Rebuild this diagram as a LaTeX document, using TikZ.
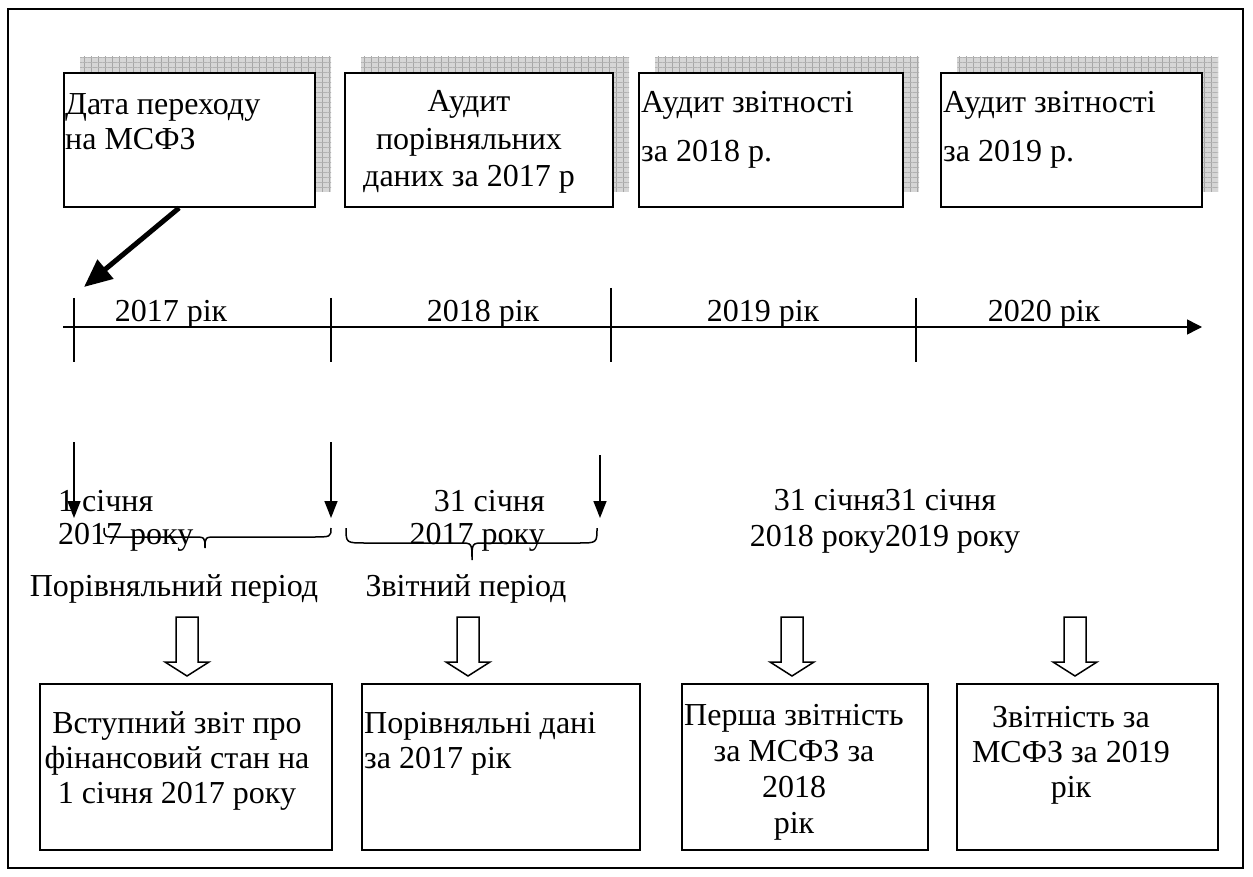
\documentclass[tikz,border=0pt]{standalone}
\usepackage{fontspec}
\setmainfont{Liberation Serif}
\usetikzlibrary{arrows.meta,patterns.meta}
\begin{document}
\begin{tikzpicture}[x=1pt,y=-1pt,
  txt/.style={inner sep=0pt, font=\fontsize{32}{35}\selectfont},
  box/.style={draw, line width=1.8pt, fill=white, inner sep=0pt},
  shade1/.style={fill=gray!32, draw=none},
  shade2/.style={pattern={Lines[distance=7pt,angle=90,line width=0.7pt]}, pattern color=gray!70},
  shade3/.style={pattern={Lines[distance=5pt,angle=0,line width=0.6pt]}, pattern color=gray!60},
  thin/.style={line width=1.5pt},
  hollow/.style={draw, line width=1.5pt, fill=white}
]
\useasboundingbox (0,0) rectangle (1253,877);
\fill[white] (0,0) rectangle (1253,877);
\draw[line width=2pt] (8,9) rectangle (1243,868);

% shadows of the top boxes
\foreach \l/\r in {64/315, 345/613, 639/903, 941/1202}{
  \path[shade1] (\l+16,57) rectangle (\r+16,192);
  \path[shade2] (\l+16,57) rectangle (\r+16,192);
  \path[shade3] (\l+16,57) rectangle (\r+16,192);
}

% top boxes
\node[box, minimum width=251pt, minimum height=134pt] (b1) at (189.5,140) {};
\node[box, minimum width=268pt, minimum height=134pt] (b2) at (479,140) {};
\node[box, minimum width=264pt, minimum height=134pt] (b3) at (771,140) {};
\node[box, minimum width=261pt, minimum height=134pt] (b4) at (1071.5,140) {};

% (anchor=base of a multi-line node = baseline of its last line)
\node[txt, align=left, anchor=base west] (t1) at (65,150) {Дата переходу\\на МСФЗ};
\node[txt, align=center, anchor=base, font=\fontsize{32}{37.5}\selectfont] (t2) at (469,187) {Аудит\\порівняльних\\даних за 2017 р};
\node[txt, align=left, anchor=base west] (t3) at (641,162) {Аудит звітності\\[14pt]за 2018 р.};
\node[txt, align=left, anchor=base west] (t4) at (943,162) {Аудит звітності\\[14pt]за 2019 р.};

% thick arrow to the transition date
\coordinate (tr) at (84,287);
\draw[line width=5pt, -{Triangle[length=28pt,width=24pt]}] ([xshift=116pt]b1.south west) -- (tr);

% time axis
\coordinate (ax0) at (63,327);
\coordinate (ax1) at (1202,327);
\draw[thin, -{Triangle[length=15pt,width=15pt]}] (ax0) -- (ax1);
\draw[thin] (74,298) -- (74,362);
\draw[thin] (331,298) -- (331,362);
\draw[thin] (611,288) -- (611,362);
\draw[thin] (916,298) -- (916,362);

\node[txt, anchor=base] (y1) at (171,322) {2017 рік};
\node[txt, anchor=base] (y2) at (483,322) {2018 рік};
\node[txt, anchor=base] (y3) at (763,322) {2019 рік};
\node[txt, anchor=base] (y4) at (1044,322) {2020 рік};

% date labels
\node[txt, align=left, anchor=base west, font=\fontsize{32}{33}\selectfont] (d1) at (58,544) {1 січня\\2017 року};
\node[txt, align=right, anchor=base east, font=\fontsize{32}{33}\selectfont] (d2) at (545,544) {31 січня\\2017 року};
\node[txt, align=center, anchor=base, font=\fontsize{32}{36}\selectfont] (d3) at (885,546) {31 січня31 січня\\2018 року2019 року};

% thin down arrows
\coordinate (p1a) at (74,442);  \coordinate (p1b) at (74,518);
\coordinate (p2a) at (331,442); \coordinate (p2b) at (331,518);
\coordinate (p3a) at (600,455); \coordinate (p3b) at (600,518);
\foreach \a/\b in {p1a/p1b,p2a/p2b,p3a/p3b}
  \draw[thin, -{Triangle[length=17pt,width=13pt]}] (\a) -- (\b);

% braces
\draw[thin] (104,528) .. controls (104,537) .. (118,537) -- (193,537)
  .. controls (205,537) .. (205,548) .. controls (205,537) .. (217,537)
  -- (312,537) .. controls (331,537) .. (331,528);
\draw[thin] (346,528) .. controls (346,543) .. (366,543) -- (460,543)
  .. controls (472,543) .. (472,560) .. controls (472,543) .. (484,543)
  -- (578,543) .. controls (597,543) .. (597,528);

\node[txt, anchor=base] (per1) at (174,596) {Порівняльний період};
\node[txt, anchor=base] (per2) at (466,596) {Звітний період};

% hollow arrows
\foreach \cx in {187,468,792,1075}{
  \draw[hollow] (\cx-11,617) -- (\cx+11,617) -- (\cx+11,662) -- (\cx+22,662)
    -- (\cx,676) -- (\cx-22,662) -- (\cx-11,662) -- cycle;
}

% bottom boxes
\node[box, minimum width=292pt, minimum height=166pt] (r1) at (186,767) {};
\node[box, minimum width=278pt, minimum height=166pt] (r2) at (501,767) {};
\node[box, minimum width=246pt, minimum height=166pt] (r3) at (805,767) {};
\node[box, minimum width=261pt, minimum height=166pt] (r4) at (1087.5,767) {};

\node[txt, align=center, anchor=base] (s1) at (177,803) {Вступний звіт про\\фінансовий стан на\\1 січня 2017 року};
\node[txt, align=left, anchor=base west] (s2) at (364,768) {Порівняльні дані\\за 2017 рік};
\node[txt, align=center, anchor=base, font=\fontsize{32}{35.7}\selectfont] (s3) at (794,833) {Перша звітність\\за МСФЗ за\\2018\\рік};
\node[txt, align=center, anchor=base] (s4) at (1071,797) {Звітність за\\МСФЗ за 2019\\рік};
\end{tikzpicture}
\end{document}
